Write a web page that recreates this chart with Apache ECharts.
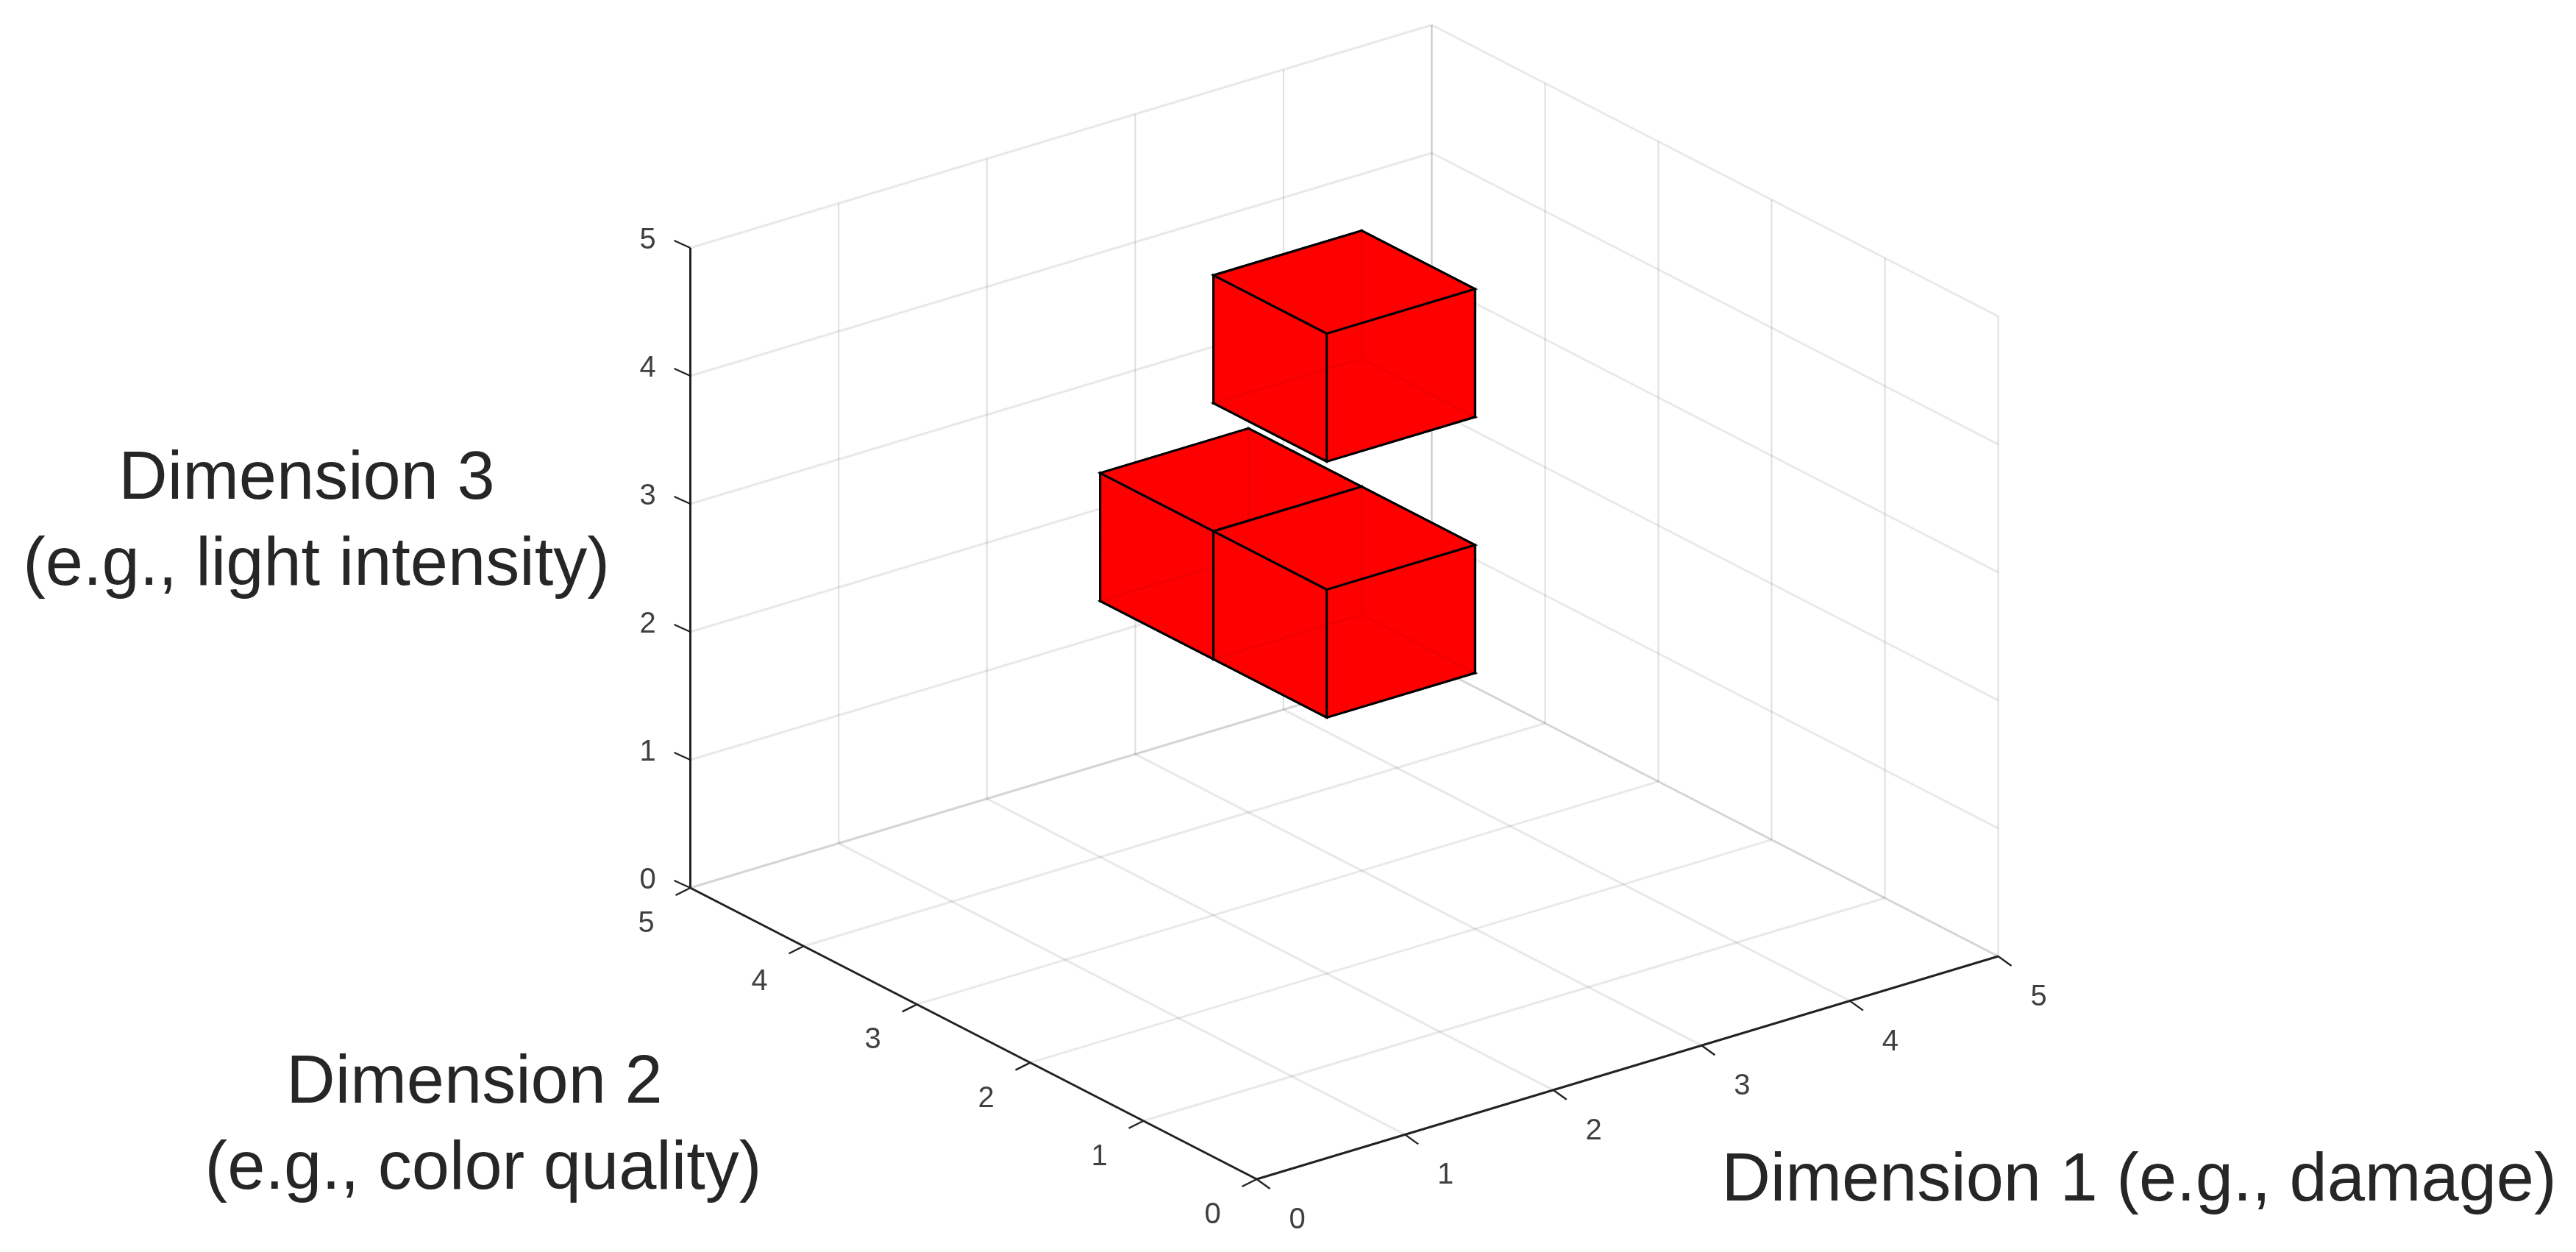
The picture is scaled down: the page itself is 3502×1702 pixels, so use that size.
<!DOCTYPE html>
<html>
<head>
<meta charset="utf-8">
<style>html,body{margin:0;padding:0;background:#fff}#c{width:3502px;height:1702px}</style>
<script src="https://cdn.jsdelivr.net/npm/echarts@6/dist/echarts.min.js"></script>
</head>
<body>
<div id="c"></div>
<script>
// ---- data ----
const ticks = [0, 1, 2, 3, 4, 5];
const cubeDim1 = [2, 2, 2];
const cubeDim2 = [3, 2, 2];
const cubeDim3 = [2, 2, 4];
const axisMax = 5;
const titleDim1 = ['Dimension 1 (e.g., damage)'];
const titleDim2 = ['Dimension 2', '(e.g., color quality)'];
const titleDim3 = ['Dimension 3', '(e.g., light intensity)'];

// ---- 3D view: orthographic projection onto the hidden 2D plane axes ----
const view = { ox: 1708.5, oy: 1603, xx: 201.6, xy: -60.6, yx: -154, yy: -79.2, zy: -174 };
const project = (x, y, z) => [
  view.ox + x * view.xx + y * view.yx,
  view.oy + x * view.xy + y * view.yy + z * view.zy
];

const font = '"Liberation Sans", Arial, Helvetica, sans-serif';
const axisColor = '#222222';

// grid segments: walls y=max, x=max and the floor z=0
const gridVertical = [];
const gridOblique = [];
ticks.forEach(t => {
  gridVertical.push([t, axisMax, 0, t, axisMax, axisMax]);
  gridVertical.push([axisMax, t, 0, axisMax, t, axisMax]);
  gridOblique.push([0, axisMax, t, axisMax, axisMax, t]);
  gridOblique.push([axisMax, 0, t, axisMax, axisMax, t]);
  gridOblique.push([t, 0, 0, t, axisMax, 0]);
  gridOblique.push([0, t, 0, axisMax, t, 0]);
});

// axis lines
const axisSegs = [
  [0, 0, 0, axisMax, 0, 0],
  [0, 0, 0, 0, axisMax, 0],
  [0, axisMax, 0, 0, axisMax, axisMax]
];

// tick marks: anchor in data space [x, y, z] + short screen offset
const tickSegs = [];
ticks.forEach(t => {
  tickSegs.push([t, 0, 0, 18, 13]);
  tickSegs.push([0, t, 0, -20, 10]);
  tickSegs.push([0, axisMax, t, -22, -10]);
});

// tick labels: [x, y, z, dx, dy, text]
const tickLabels = [];
ticks.forEach(t => {
  tickLabels.push([t, 0, 0, 55, 56, String(t)]);
  tickLabels.push([0, t, 0, -60, 49, String(t)]);
  tickLabels.push([0, axisMax, t, -58, -10, String(t)]);
});

const cubes = cubeDim1.map((x, i) => [x, cubeDim2[i], cubeDim3[i]])
  .sort((a, b) => (b[0] + b[1] - b[2]) - (a[0] + a[1] - a[2]));

const faces = (x, y, z) => {
  const X = x + 1, Y = y + 1, Z = z + 1;
  return {
    back: [
      [[X, y, z], [X, Y, z], [X, Y, Z], [X, y, Z]],
      [[x, Y, z], [X, Y, z], [X, Y, Z], [x, Y, Z]],
      [[x, y, z], [X, y, z], [X, Y, z], [x, Y, z]]
    ],
    front: [
      [[x, y, z], [x, Y, z], [x, Y, Z], [x, y, Z]],
      [[x, y, z], [X, y, z], [X, y, Z], [x, y, Z]],
      [[x, y, Z], [X, y, Z], [X, Y, Z], [x, Y, Z]]
    ]
  };
};

const segRender = (segs, stroke, lineWidth) => (params, api) => {
  const s = segs[params.dataIndex];
  const a = api.coord(project(s[0], s[1], s[2]));
  const b = api.coord(project(s[3], s[4], s[5]));
  return {
    type: 'line', silent: true,
    shape: { x1: a[0], y1: a[1], x2: b[0], y2: b[1] },
    style: { stroke, lineWidth, lineCap: 'butt', fill: null }
  };
};

const segSeries = (name, segs, stroke, lineWidth, z) => ({
  type: 'custom', name, coordinateSystem: 'cartesian2d', silent: true, z, animation: false,
  data: segs.map(s => project(s[0], s[1], s[2])),
  renderItem: segRender(segs, stroke, lineWidth)
});

const tickRender = (params, api) => {
  const s = tickSegs[params.dataIndex];
  const a = api.coord(project(s[0], s[1], s[2]));
  return {
    type: 'line', silent: true,
    shape: { x1: a[0], y1: a[1], x2: a[0] + s[3], y2: a[1] + s[4] },
    style: { stroke: axisColor, lineWidth: 2.4, lineCap: 'butt', fill: null }
  };
};

const cubeRender = (params, api) => {
  const c = cubes[params.dataIndex];
  const f = faces(c[0], c[1], c[2]);
  const poly = face => ({
    type: 'polygon', silent: true,
    shape: { points: face.map(p => api.coord(project(p[0], p[1], p[2]))) },
    style: { fill: 'rgba(255,0,0,0.95)', stroke: '#000', lineWidth: 3, lineJoin: 'miter' }
  });
  return { type: 'group', children: f.back.concat(f.front).map(poly) };
};

const labelRender = (params, api) => {
  const l = tickLabels[params.dataIndex];
  const p = api.coord(project(l[0], l[1], l[2]));
  return {
    type: 'text', x: p[0] + l[3], y: p[1] + l[4], silent: true,
    style: { text: l[5], font: '40px ' + font, fill: '#404040', textAlign: 'center', textVerticalAlign: 'middle', verticalAlign: 'middle' }
  };
};

const titleText = (text, cx, top) => ({
  type: 'text', x: cx, y: top, silent: true,
  style: { text, font: '92px ' + font, fill: '#262626', textAlign: 'center', textVerticalAlign: 'top', verticalAlign: 'top' }
});

const chart = echarts.init(document.getElementById('c'), null, { renderer: 'canvas', width: 3502, height: 1702 });
chart.setOption({
  animation: false,
  backgroundColor: '#ffffff',
  grid: { left: 0, right: 0, top: 0, bottom: 0, containLabel: false },
  xAxis: { type: 'value', min: 0, max: 3502, show: false },
  yAxis: { type: 'value', min: 0, max: 1702, inverse: true, show: false },
  tooltip: { show: false },
  series: [
    segSeries('gridVertical', gridVertical, 'rgba(38,38,38,0.15)', 2, 1),
    segSeries('gridOblique', gridOblique, 'rgba(38,38,38,0.1)', 3, 1),
    segSeries('axes', axisSegs, axisColor, 3, 2),
    {
      type: 'custom', name: 'ticks', coordinateSystem: 'cartesian2d', silent: true, z: 2, animation: false,
      data: tickSegs.map(s => project(s[0], s[1], s[2])),
      renderItem: tickRender
    },
    {
      type: 'custom', name: 'tickLabels', coordinateSystem: 'cartesian2d', silent: true, z: 3, animation: false,
      data: tickLabels.map(l => project(l[0], l[1], l[2])),
      renderItem: labelRender
    },
    {
      type: 'custom', name: 'cubes', coordinateSystem: 'cartesian2d', silent: true, z: 4, animation: false,
      data: cubes.map(c => project(c[0], c[1], c[2])),
      renderItem: cubeRender
    }
  ],
  graphic: { elements: [
    titleText(titleDim3[0], 417, 607),
    titleText(titleDim3[1], 430, 724),
    titleText(titleDim2[0], 645, 1428),
    titleText(titleDim2[1], 657, 1545),
    titleText(titleDim1[0], 2908, 1561)
  ] }
});
</script>
</body>
</html>
